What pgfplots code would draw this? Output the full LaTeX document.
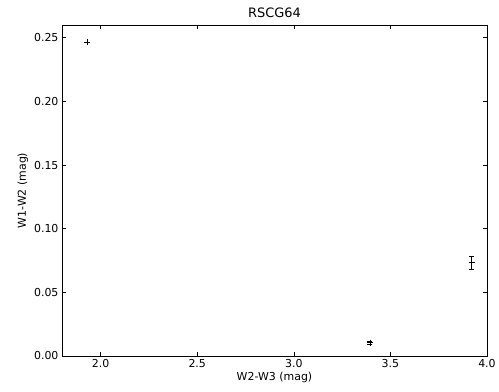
\documentclass[border=0pt]{standalone}
\usepackage{pgfplots}
\pgfplotsset{compat=1.18}
\usepackage{fontspec}
\setmainfont{DejaVu Sans}
\begin{document}
\begin{tikzpicture}[x=1bp,y=1bp]
\begin{axis}[
  scale only axis,
  width=425bp, height=331bp,
  xmin=1.8, xmax=4.0, ymin=0, ymax=0.26,
  xtick={2.0,2.5,3.0,3.5,4.0},
  ytick={0,0.05,0.10,0.15,0.20,0.25},
  xticklabel style={/pgf/number format/.cd,fixed,fixed zerofill,precision=1},
  yticklabel style={/pgf/number format/.cd,fixed,fixed zerofill,precision=2},
  /pgf/number format/assume math mode=true,
  tick align=inside,
  major tick length=4bp,
  tick style={black, line width=0.5pt},
  ticklabel style={font=\fontsize{11}{13}\selectfont},
  axis line style={black, line width=0.8pt},
  title={RSCG64},
  title style={font=\fontsize{13}{15}\selectfont, yshift=-2bp},
  xlabel={W2-W3 (mag)},
  ylabel={W1-W2 (mag)},
  label style={font=\fontsize{11}{13}\selectfont},
  xlabel style={yshift=2bp},
  ylabel style={yshift=-1bp},
]
\addplot+[only marks, mark=+, mark size=3bp, black, mark options={black, line width=0.5pt},
  error bars/.cd, y dir=both, y explicit, error bar style={black, line width=0.5pt},
  error mark options={rotate=90, mark size=2.5bp, black, line width=0.5pt}]
  coordinates {
  (1.931,0.2466) +- (0,0.0002)
  (3.394,0.0104) +- (0,0.0010)
  (3.921,0.0735) +- (0,0.0050)
  };
\end{axis}
\path[use as bounding box] (-62,-36) rectangle (437,356);
\end{tikzpicture}
\end{document}
